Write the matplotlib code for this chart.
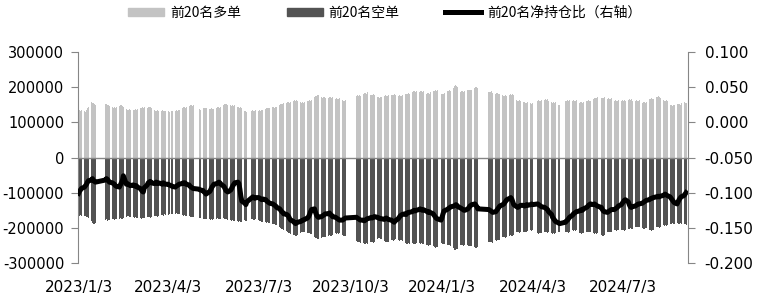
# 前20名多空持仓与净持仓比
import numpy as np
import pandas as pd
import matplotlib
matplotlib.use('Agg')
import matplotlib.pyplot as plt
from matplotlib.patches import Patch
from matplotlib.lines import Line2D
from matplotlib.font_manager import FontProperties

# 交易日（去掉周末和节假日）
holidays = ['2023-01-02', '2023-01-23', '2023-01-24', '2023-01-25', '2023-01-26', '2023-01-27',
            '2023-04-05', '2023-05-01', '2023-05-02', '2023-05-03', '2023-06-22', '2023-06-23',
            '2023-09-29', '2023-10-02', '2023-10-03', '2023-10-04', '2023-10-05', '2023-10-06',
            '2024-01-01', '2024-02-09', '2024-02-12', '2024-02-13', '2024-02-14', '2024-02-15',
            '2024-02-16', '2024-04-04', '2024-04-05', '2024-05-01', '2024-05-02', '2024-05-03',
            '2024-06-10']
dates = pd.bdate_range('2023-01-03', '2024-09-04')
dates = dates[~dates.isin(pd.to_datetime(holidays))]

# 前20名多单（千手）
long_k = [
    140, 136, 133, 135, 132, 130, 136, 140, 143, 158, 154, 156, 152, 150, 152, 151,  # 2023-01
    150, 149, 147, 144, 142, 143, 141, 144, 146, 148, 150, 147, 145, 138, 136, 135, 137, 136, 135, 136,
    137, 136, 138, 140, 142, 143, 141, 144, 142, 145, 143, 144, 141, 134, 133, 132, 135, 133, 132, 134, 133, 131, 133,
    131, 130, 132, 133, 132, 134, 133, 135, 134, 140, 143, 145, 142, 144, 146, 148, 150, 147, 149,
    137, 136, 140, 141, 142, 140, 139, 138, 139, 140, 137, 139, 142, 143, 144, 142, 145, 150, 152, 153,
    151, 150, 148, 147, 149, 146, 148, 145, 143, 142, 144, 141, 133, 131, 130, 132, 134, 133, 132, 135,
    133, 134, 132, 135, 134, 139, 141, 140, 142, 141, 143, 144, 142, 145, 143, 150, 152, 153, 151, 154, 156,
    157, 158, 156, 159, 161, 163, 162, 164, 160, 158, 156, 157, 155, 158, 160, 162, 163, 161, 164, 172, 175, 176, 178,
    177, 172, 170, 171, 173, 169, 170, 172, 171, 169, 172, 166, 168, 167, 165, 168, 163, 161, 162, 164,
    175, 177, 176, 178, 176, 181, 183, 184, 182, 185, 179, 178, 177, 180, 178, 172, 171,
    170, 172, 171, 175, 177, 176, 174, 178, 177, 179, 178, 180, 177, 175, 177, 176, 174, 177, 180, 182, 181, 183,
    182, 186, 188, 189, 187, 190, 187, 189, 188, 186, 190, 182, 184, 183, 181, 185, 188, 190, 191, 189, 192,
    180, 182, 181, 183, 188, 190, 191, 189, 192, 198, 202, 205, 203, 200, 187, 189, 188, 186, 190, 191, 193, 192,  # 2024-01
    193, 192, 198, 200, 201, 197, 185, 187, 186, 188, 184, 182, 184, 183, 181,
    182, 177, 175, 176, 178, 174, 178, 180, 179, 181, 177, 163, 161, 162, 164, 160, 157, 158, 156, 155, 157,
    155, 153, 154, 161, 163, 162, 160, 164, 163, 165, 164, 166, 162, 158, 156, 157, 155, 158, 148, 149,
    160, 162, 163, 161, 164, 161, 163, 162, 160, 164, 156, 158, 157, 155, 158, 160, 162, 163, 161, 162,
    167, 169, 170, 168, 171, 168, 170, 169, 171, 166, 168, 167, 165, 168, 161, 163, 162, 160, 164,
    161, 163, 162, 164, 160, 163, 165, 164, 166, 162, 161, 163, 162, 160, 164, 156, 158, 157, 155, 158, 165, 167, 168,
    167, 166, 171, 173, 175, 172, 170, 163, 161, 162, 164, 160, 149, 148, 147, 150, 148, 151, 153, 152, 150, 154,
    157, 155, 156,
]

# 前20名空单（千手）
short_k = [
    168, 165, 163, 166, 165, 167, 170, 168, 172, 180, 185, 188, 190, 186, 178, 176,  # 2023-01
    180, 179, 178, 176, 175, 177, 176, 174, 174, 172, 175, 176, 173, 168, 166, 167, 169, 168, 170, 171,
    170, 172, 171, 172, 174, 173, 171, 172, 170, 168, 169, 171, 170, 167, 166, 165, 168, 166, 164, 163, 165, 162, 163,
    163, 162, 161, 162, 160, 159, 161, 160, 162, 163, 165, 164, 166, 165, 167, 168, 170, 169, 168,
    172, 173, 174, 175, 176, 174, 175, 176, 177, 175, 178, 176, 174, 173, 175, 176, 174, 172, 174, 175,
    176, 178, 178, 180, 179, 181, 180, 180, 182, 181, 183, 182, 178, 180, 181, 176, 175, 177, 178, 176,
    178, 180, 181, 182, 183, 183, 185, 184, 186, 187, 188, 189, 190, 191, 192, 198, 200, 202, 203, 205, 210,
    212, 214, 216, 217, 219, 221, 222, 223, 220, 214, 212, 211, 213, 212, 214, 215, 216, 218, 217, 225, 228, 230, 231,
    232, 228, 226, 225, 227, 226, 222, 221, 223, 222, 220, 216, 217, 215, 218, 216, 220, 222, 223, 222,
    238, 240, 241, 239, 242, 243, 245, 246, 244, 245, 241, 240, 239, 242, 240, 231, 230,
    230, 232, 231, 238, 240, 241, 239, 240, 234, 235, 236, 234, 233, 235, 236, 234, 235, 236, 243, 245, 246, 244,
    245, 244, 246, 245, 247, 244, 243, 245, 244, 246, 245, 248, 250, 251, 249, 250, 253, 255, 256, 254, 255,
    244, 246, 245, 247, 248, 250, 249, 251, 250, 258, 262, 264, 261, 260, 248, 250, 249, 251, 250, 250, 251, 252,  # 2024-01
    252, 253, 255, 256, 257, 255, 240, 241, 239, 240, 242, 235, 236, 234, 235,
    235, 227, 226, 225, 228, 226, 222, 221, 223, 222, 220, 213, 212, 211, 214, 212, 212, 213, 211, 212, 210,
    207, 208, 206, 215, 217, 216, 214, 216, 212, 213, 211, 214, 212, 216, 217, 215, 218, 216, 212, 213,
    212, 213, 211, 214, 212, 207, 208, 206, 209, 207, 214, 216, 217, 215, 216, 211, 212, 213, 211, 212,
    215, 217, 216, 218, 216, 220, 222, 223, 221, 211, 212, 213, 211, 212, 207, 206, 208, 207, 206,
    206, 207, 205, 208, 206, 202, 203, 201, 204, 202, 197, 198, 199, 197, 198, 201, 202, 203, 201, 200, 206, 207, 208,
    207, 206, 198, 199, 197, 200, 198, 193, 194, 192, 195, 193, 188, 189, 187, 190, 188, 187, 188, 189, 187, 188,
    190, 189, 191,
]

# 前20名净持仓比
net_ratio = [
    -0.101, -0.098, -0.096, -0.094, -0.092, -0.090, -0.088, -0.085, -0.083, -0.082, -0.080, -0.083, -0.084, -0.085, -0.082, -0.080,
    -0.081, -0.083, -0.085, -0.086, -0.087, -0.088, -0.090, -0.091, -0.092, -0.089, -0.086, -0.083, -0.076, -0.088, -0.087, -0.088, -0.089, -0.090, -0.089, -0.090,
    -0.091, -0.090, -0.092, -0.094, -0.096, -0.098, -0.099, -0.093, -0.089, -0.086, -0.085, -0.084, -0.086, -0.087, -0.086, -0.085, -0.087, -0.086, -0.087, -0.088, -0.086, -0.087, -0.088,
    -0.088, -0.089, -0.090, -0.091, -0.092, -0.091, -0.090, -0.089, -0.088, -0.087, -0.086, -0.087, -0.086, -0.088, -0.089, -0.091, -0.092, -0.093, -0.094,
    -0.095, -0.096, -0.097, -0.099, -0.100, -0.102, -0.101, -0.098, -0.095, -0.092, -0.090, -0.088, -0.087, -0.086, -0.085, -0.086, -0.088, -0.091, -0.094, -0.097,
    -0.098, -0.099, -0.096, -0.093, -0.090, -0.088, -0.086, -0.085, -0.087, -0.095, -0.105, -0.112, -0.115, -0.117, -0.113, -0.107, -0.106, -0.107, -0.108, -0.107,
    -0.107, -0.108, -0.109, -0.110, -0.109, -0.110, -0.112, -0.113, -0.114, -0.115, -0.116, -0.117, -0.118, -0.119, -0.121, -0.123, -0.125, -0.127, -0.128, -0.130, -0.131,
    -0.132, -0.134, -0.137, -0.139, -0.141, -0.143, -0.144, -0.143, -0.142, -0.141, -0.140, -0.139, -0.139, -0.138, -0.136, -0.134, -0.131, -0.127, -0.124, -0.123, -0.128, -0.132, -0.134,
    -0.135, -0.134, -0.133, -0.132, -0.131, -0.130, -0.130, -0.129, -0.131, -0.132, -0.134, -0.135, -0.136, -0.137, -0.138, -0.139, -0.139, -0.138, -0.137, -0.136,
    -0.135, -0.136, -0.137, -0.138, -0.139, -0.139, -0.140, -0.139, -0.138, -0.137, -0.136, -0.135, -0.136, -0.135, -0.134, -0.135, -0.136,
    -0.136, -0.137, -0.137, -0.138, -0.137, -0.136, -0.137, -0.138, -0.139, -0.140, -0.141, -0.142, -0.140, -0.137, -0.135, -0.133, -0.132, -0.131, -0.130, -0.131, -0.129, -0.128,
    -0.128, -0.127, -0.126, -0.125, -0.126, -0.125, -0.124, -0.123, -0.124, -0.125, -0.124, -0.126, -0.127, -0.128, -0.127, -0.128, -0.130, -0.132, -0.134, -0.136, -0.137,
    -0.139, -0.135, -0.130, -0.126, -0.124, -0.123, -0.122, -0.121, -0.120, -0.119, -0.118, -0.117, -0.118, -0.120, -0.122, -0.123, -0.124, -0.125, -0.125, -0.123, -0.121, -0.119,
    -0.118, -0.117, -0.116, -0.118, -0.120, -0.123, -0.124, -0.125, -0.126, -0.127, -0.128, -0.127, -0.125, -0.123, -0.121,
    -0.119, -0.117, -0.116, -0.114, -0.112, -0.110, -0.108, -0.107, -0.109, -0.113, -0.117, -0.120, -0.121, -0.120, -0.119, -0.118, -0.118, -0.119, -0.118, -0.117, -0.118,
    -0.117, -0.116, -0.117, -0.116, -0.117, -0.118, -0.119, -0.120, -0.121, -0.122, -0.123, -0.124, -0.127, -0.131, -0.135, -0.137, -0.139, -0.141, -0.143, -0.144,
    -0.142, -0.140, -0.139, -0.137, -0.135, -0.132, -0.130, -0.129, -0.128, -0.127, -0.126, -0.125, -0.124, -0.125, -0.123, -0.121, -0.120, -0.118, -0.117, -0.116,
    -0.117, -0.116, -0.117, -0.118, -0.119, -0.121, -0.124, -0.126, -0.127, -0.128, -0.127, -0.126, -0.125, -0.124, -0.124, -0.123, -0.122, -0.121, -0.119,
    -0.117, -0.115, -0.113, -0.111, -0.110, -0.113, -0.117, -0.120, -0.121, -0.120, -0.119, -0.118, -0.117, -0.116, -0.116, -0.115, -0.114, -0.113, -0.112, -0.111, -0.110, -0.109, -0.108,
    -0.108, -0.107, -0.106, -0.106, -0.105, -0.106, -0.105, -0.104, -0.103, -0.102, -0.103, -0.104, -0.106, -0.108, -0.110, -0.112, -0.114, -0.116, -0.113, -0.110, -0.108, -0.106,
    -0.104, -0.102, -0.100,
]

tick_dates = ['2023-01-03', '2023-04-03', '2023-07-03', '2023-10-03', '2024-01-03', '2024-04-03', '2024-07-03']
tick_labels = ['2023/1/3', '2023/4/3', '2023/7/3', '2023/10/3', '2024/1/3', '2024/4/3', '2024/7/3']
left_ticks = [-300000, -200000, -100000, 0, 100000, 200000, 300000]
right_ticks = [-0.2, -0.15, -0.1, -0.05, 0.0, 0.05, 0.1]

long_pos = np.array(long_k) * 1000
short_pos = -np.array(short_k) * 1000

plt.rcParams['font.family'] = ['DejaVu Sans', 'Noto Sans CJK SC']
axis_gray = '#868686'

fig = plt.figure(figsize=(7.59, 3.01), dpi=100)
ax = fig.add_axes([0.1028, 0.1262, 0.8037, 0.701])
ax2 = ax.twinx()

ax.bar(dates, long_pos, width=1.0, color='#C3C3C3', linewidth=0)
ax.bar(dates, short_pos, width=1.0, color='#535353', linewidth=0)
ax.axhline(0, color=axis_gray, lw=1, zorder=3)

ax2.plot(dates, net_ratio, color='black', lw=3.6, solid_joinstyle='round')

ax.set_xlim(pd.Timestamp('2023-01-02 12:00'), pd.Timestamp('2024-09-06'))
ax.set_ylim(-300000, 300000)
ax2.set_ylim(-0.2, 0.1)

ax.set_xticks(pd.to_datetime(tick_dates))
ax.set_xticklabels(tick_labels)
ax.set_yticks(left_ticks)
ax.set_yticklabels([str(v) for v in left_ticks])
ax2.set_yticks(right_ticks)
ax2.set_yticklabels(['%.3f' % v for v in right_ticks])

ax.tick_params(axis='x', length=0, pad=12, labelsize=11)
ax.tick_params(axis='y', direction='out', length=5, color=axis_gray, labelsize=10.5, pad=5)
ax2.tick_params(axis='y', direction='out', length=5, color=axis_gray, labelsize=11, pad=7)

for s in ['top', 'bottom', 'right']:
    ax.spines[s].set_visible(False)
for s in ['top', 'bottom', 'left']:
    ax2.spines[s].set_visible(False)
ax.spines['left'].set_color(axis_gray)
ax2.spines['right'].set_color(axis_gray)

handles = [Patch(color='#C3C3C3'), Patch(color='#535353'), Line2D([], [], color='black', lw=3.6)]
labels = ['前20名多单', '前20名空单', '前20名净持仓比（右轴）']
fig.legend(handles, labels, loc='center', bbox_to_anchor=(0.507, 0.958), ncol=3, frameon=False,
           prop=FontProperties(family='Noto Sans CJK SC', size=10),
           handlelength=2.6, handleheight=0.5, handletextpad=0.4, columnspacing=3.3)

fig.savefig('out.png', dpi=100)
